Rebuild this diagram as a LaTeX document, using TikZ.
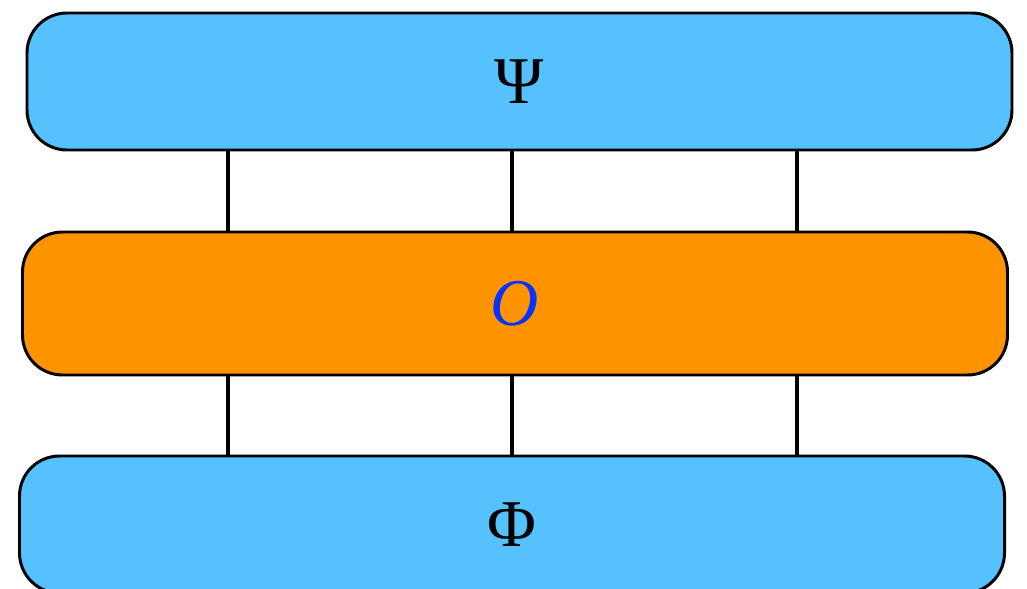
\documentclass[tikz,border=0pt]{standalone}
\usepackage{fontspec}
\newfontfamily\symfont{Liberation Serif}
\usetikzlibrary{positioning, calc}
\usepackage{xcolor}
\definecolor{SkyBlue}{HTML}{56C1FF}
\definecolor{Tangerine}{HTML}{FF9300}
\definecolor{OpBlue}{HTML}{0433FF}

\begin{document}
\begin{tikzpicture}[
  layer/.style={rectangle, rounded corners=0.8cm, draw=black, line width=1.7pt,
    minimum width=19.7cm, minimum height=2.74cm, inner sep=0pt,
    font=\symfont\fontsize{38}{40}\selectfont},
  state/.style={layer, fill=SkyBlue},
  op/.style={layer, fill=Tangerine, minimum height=2.86cm},
  leg/.style={line width=2.3pt, color=black}
]
  \useasboundingbox (0,0) rectangle (20.54,-11.78);

  \node[state] (psi) at (10.39,-1.63)  {Ψ};
  \node[op]    (op)  at (10.30,-6.07)  {\color{OpBlue}\itshape O};
  \node[state] (phi) at (10.24,-10.49) {Φ};

  % legs
  \foreach \x [count=\i] in {4.56, 10.24, 15.94} {
    \coordinate (col\i) at (\x,0);
    \draw[leg] (psi.south -| col\i) -- (op.north -| col\i);
    \draw[leg] (op.south -| col\i) -- (phi.north -| col\i);
  }
\end{tikzpicture}
\end{document}
